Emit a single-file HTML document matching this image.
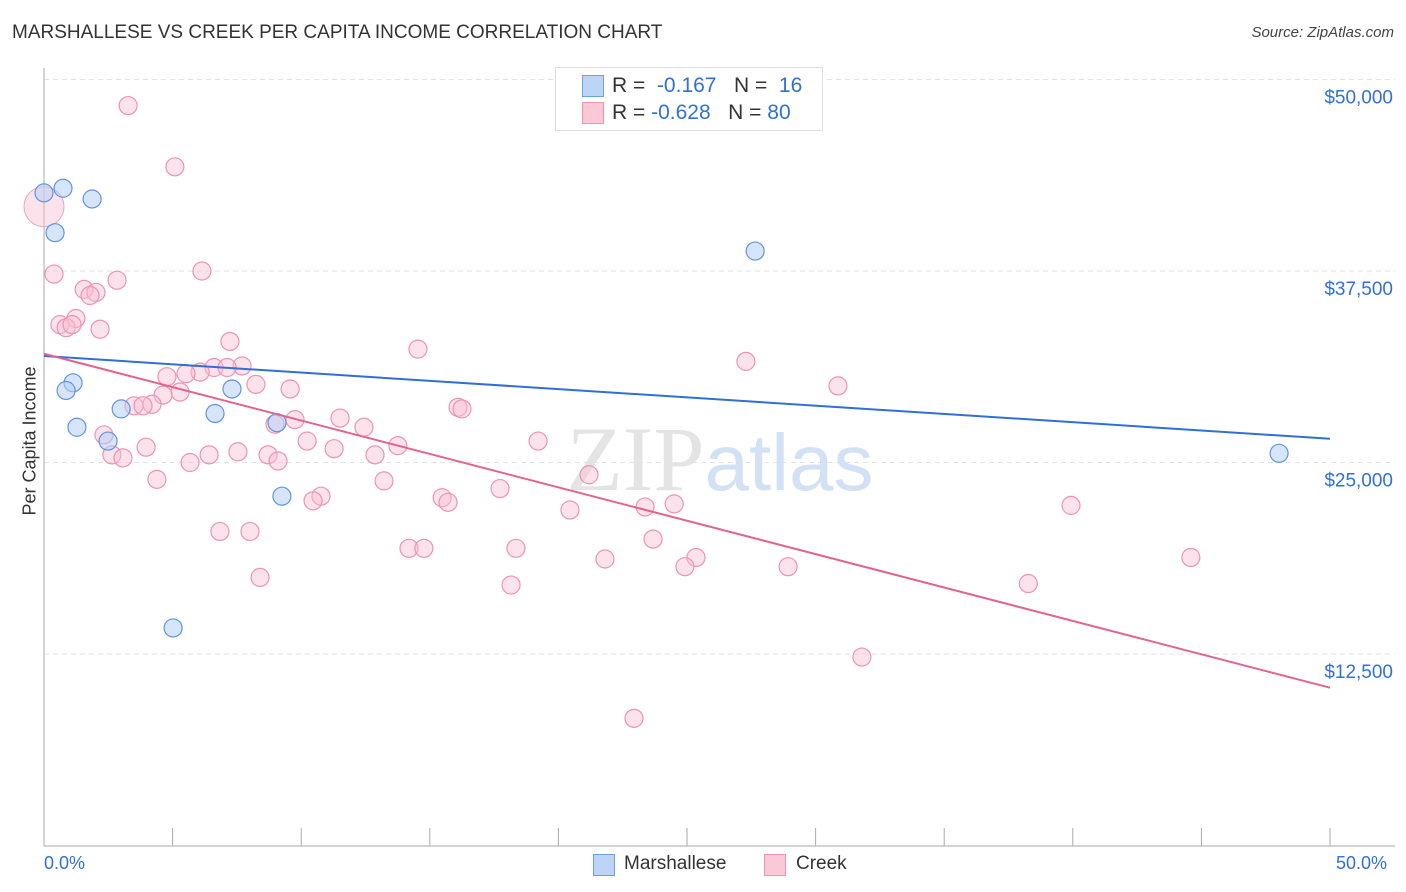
<!DOCTYPE html>
<html><head><meta charset="utf-8"><style>
body{margin:0;background:#fff;font-family:"Liberation Sans",sans-serif;}
#wrap{position:relative;width:1406px;height:892px;overflow:hidden;}
.t{position:absolute;white-space:nowrap;}
</style></head><body>
<div id="wrap">
<div class="t" style="left:12px;top:22px;font-size:19px;color:#333;">MARSHALLESE VS CREEK PER CAPITA INCOME CORRELATION CHART</div>
<div class="t" style="right:12px;top:24px;font-size:15px;color:#444;font-style:italic;">Source: ZipAtlas.com</div>
<div class="t" style="left:-30px;top:445px;font-size:18px;color:#333;transform:rotate(-90deg);transform-origin:center;width:120px;text-align:center;">Per Capita Income</div>
<svg id="svg" width="1406" height="892" style="position:absolute;left:0;top:0"></svg>
<div style="position:absolute;left:555px;top:67px;width:266px;height:62px;border:1px solid #ddd;background:#fff;"></div>
<div style="position:absolute;left:582px;top:75px;width:20px;height:20px;background:#bcd5f5;border:1px solid #6fa0e6;"></div>
<div style="position:absolute;left:582px;top:102px;width:20px;height:20px;background:#fbc8d7;border:1px solid #ee93b0;"></div>
<div class="t" style="left:612px;top:74px;font-size:21px;color:#333;">R = &nbsp;<span style="color:#3070d8">-0.167</span>&nbsp;&nbsp;&nbsp;N = &nbsp;<span style="color:#3070d8">16</span></div>
<div class="t" style="left:612px;top:101px;font-size:21px;color:#333;">R = <span style="color:#3070d8">-0.628</span>&nbsp;&nbsp;&nbsp;N = <span style="color:#3070d8">80</span></div>
<div class="t" style="left:44px;top:853px;font-size:18px;color:#3070d8;">0.0%</div>
<div class="t" style="left:1336px;top:853px;font-size:18px;color:#3070d8;">50.0%</div>
<div style="position:absolute;left:593px;top:854px;width:20px;height:20px;background:#bcd5f5;border:1px solid #6fa0e6;"></div>
<div class="t" style="left:624px;top:853px;font-size:19px;color:#333;">Marshallese</div>
<div style="position:absolute;left:764px;top:854px;width:20px;height:20px;background:#fbc8d7;border:1px solid #ee93b0;"></div>
<div class="t" style="left:796px;top:853px;font-size:19px;color:#333;">Creek</div>
</div>
<script>
const yTicks=[12500,25000,37500,50000];
const yTickLabels=["$12,500","$25,000","$37,500","$50,000"];
const blueX=[0.0,0.74,1.87,0.43,1.13,0.86,1.28,2.49,3.0,6.65,7.31,9.06,9.25,5.02,27.65,48.02];
const blueY=[42600,42900,42200,40000,30200,29700,27300,26400,28500,28200,29800,27600,22800,14200,38800,25600];
const pinkX=[3.27,5.09,0.39,6.14,2.84,1.56,2.02,1.79,1.24,0.62,0.86,1.09,2.18,7.23,14.54,27.29,7.7,6.61,7.12,6.07,5.52,4.78,30.87,9.57,8.24,5.29,4.63,4.2,3.5,3.85,16.1,16.25,11.51,9.76,8.98,12.44,2.33,10.23,11.28,13.76,19.21,3.97,2.64,3.07,6.42,7.54,8.71,9.1,5.68,12.87,21.19,4.39,13.22,17.73,10.77,10.46,15.48,15.71,20.45,23.37,24.5,39.93,6.84,8.01,23.68,14.19,14.77,18.35,21.81,25.35,24.92,28.93,44.59,8.4,18.16,38.27,31.8,22.94];
const pinkY=[48300,44300,37300,37500,36900,36300,36100,35900,34400,34000,33800,34000,33700,32900,32400,31600,31300,31200,31200,30900,30800,30600,30000,29800,30100,29600,29400,28800,28700,28700,28600,28500,27900,27800,27500,27300,26800,26400,25900,26100,26400,26000,25500,25300,25500,25700,25500,25100,25000,25500,24200,23900,23800,23300,22800,22500,22700,22400,21900,22100,22300,22200,20500,20500,20000,19400,19400,19400,18700,18800,18200,18200,18800,17500,17000,17100,12300,8300];
const blueTrend=[31950,26550];
const pinkTrend=[32100,10300];
const X0=44,X1=1330,Y0=845.5,PX=191.5/12500;
const sx=p=>X0+p/50*(X1-X0), sy=v=>Y0-v*PX;
const svg=document.getElementById('svg');const NS='http://www.w3.org/2000/svg';
function mk(tag,at){const e=document.createElementNS(NS,tag);for(const k in at)e.setAttribute(k,at[k]);svg.appendChild(e);return e;}
yTicks.forEach((v,i)=>{const g=mk('line',{x1:X0,x2:1395,y1:sy(v),y2:sy(v),stroke:'#e2e2e2','stroke-dasharray':'5,4'});


const t=mk('text',{x:1393,y:sy(v)+24,'text-anchor':'end','font-size':19,fill:'#3070d8','font-family':'Liberation Sans, sans-serif'});t.textContent=yTickLabels[i];

});
const ax=mk('line',{x1:X0,x2:X0,y1:68,y2:846,stroke:'#aaa'});


const bx=mk('line',{x1:X0,x2:1395,y1:846,y2:846,stroke:'#aaa'});


for(let i=0;i<=10;i++){const tk=mk('line',{x1:sx(i*5),x2:sx(i*5),y1:828,y2:846,stroke:'#aaa'});

}
const wm=mk('text',{x:720,y:490,'text-anchor':'middle','font-size':92,fill:'#e4e4e4','font-family':'Liberation Serif, serif'});
wm.innerHTML='ZIP<tspan fill="#d3e1f5" font-family="Liberation Sans, sans-serif" font-size="80">atlas</tspan>';


const big=mk('circle',{cx:sx(0),cy:sy(41700),r:20,fill:'rgba(248,190,210,0.45)',stroke:'#f0a0ba','stroke-width':1});


pinkX.forEach((x,i)=>{const c=mk('circle',{cx:sx(x),cy:sy(pinkY[i]),r:9,fill:'rgba(248,190,210,0.45)',stroke:'#ee93b0','stroke-width':1.2});

});
blueX.forEach((x,i)=>{const c=mk('circle',{cx:sx(x),cy:sy(blueY[i]),r:9,fill:'rgba(180,208,244,0.55)',stroke:'#5f95e0','stroke-width':1.2});

});
const bl=mk('line',{x1:sx(0),y1:sy(blueTrend[0]),x2:sx(50),y2:sy(blueTrend[1]),stroke:'#2f6fd6','stroke-width':2});


const pl=mk('line',{x1:sx(0),y1:sy(pinkTrend[0]),x2:sx(50),y2:sy(pinkTrend[1]),stroke:'#e2648e','stroke-width':2});


</script>
</body></html>
